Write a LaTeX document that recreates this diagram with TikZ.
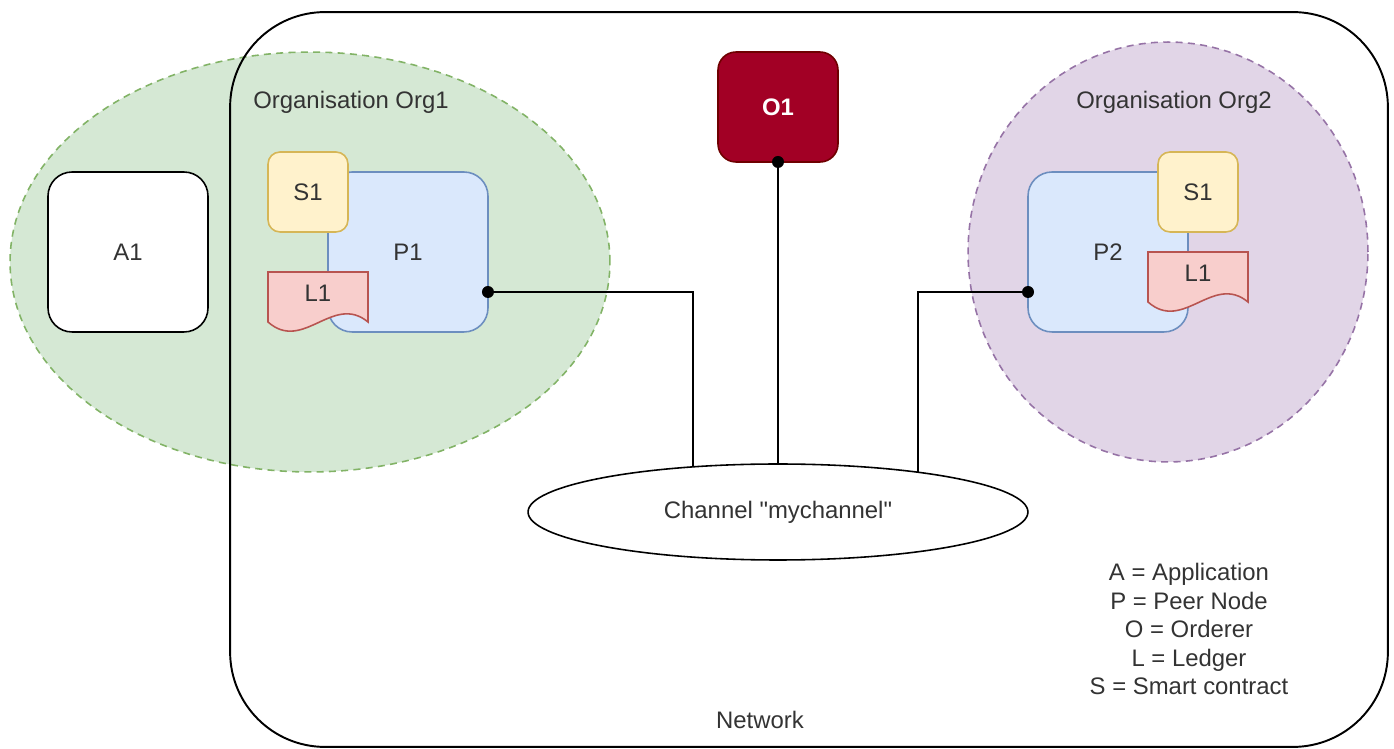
\documentclass[tikz,border=0pt]{standalone}
\usepackage{fontspec}
\setmainfont{Liberation Sans}
\usepackage{tikz}
\usetikzlibrary{shapes.geometric, positioning, calc}
\definecolor{txt}{HTML}{333333}
\definecolor{greenfill}{HTML}{D5E8D4}
\definecolor{greenline}{HTML}{82B366}
\definecolor{purplefill}{HTML}{E1D5E7}
\definecolor{purpleline}{HTML}{9673A6}
\definecolor{peerfill}{HTML}{DAE8FC}
\definecolor{peerline}{HTML}{6C8EBF}
\definecolor{scfill}{HTML}{FFF2CC}
\definecolor{scline}{HTML}{D6B656}
\definecolor{ledgerfill}{HTML}{F8CECC}
\definecolor{ledgerline}{HTML}{B85450}
\definecolor{ordfill}{HTML}{A20025}
\definecolor{ordline}{HTML}{6F0000}
\tikzset{
    base/.style={font=\fontsize{13.6}{16.2}\selectfont, text=txt, align=center, inner sep=0pt, outer sep=0pt},
    orgzone/.style={ellipse, line width=0.9pt, dash pattern=on 4pt off 3pt, inner sep=0pt},
    block/.style={base, rectangle, line width=0.9pt},
    appbox/.style={block, draw=black, fill=white, rounded corners=0.48cm, minimum size=3.2cm},
    peerbox/.style={block, draw=peerline, fill=peerfill, rounded corners=0.48cm, minimum size=3.2cm},
    scbox/.style={block, draw=scline, fill=scfill, rounded corners=0.24cm, minimum size=1.6cm},
    ordbox/.style={block, draw=ordline, fill=ordfill, text=white, font=\fontsize{13.6}{16}\selectfont\bfseries, rounded corners=0.36cm, minimum width=2.4cm, minimum height=2.2cm},
    ledger/.style={fill=ledgerfill, draw=ledgerline, line width=0.9pt},
    dot/.style={circle, fill=black, inner sep=0pt, minimum size=0.24cm},
    wire/.style={draw=black, line width=0.9pt},
    channel/.style={base, ellipse, draw=black, fill=white, line width=0.9pt, minimum width=10cm, minimum height=1.92cm}
}
\begin{document}
\begin{tikzpicture}[x=0.02cm, y=-0.02cm]
    \useasboundingbox (0,0) rectangle (1394,749);

    % organisations
    \node [orgzone, draw=greenline, fill=greenfill, minimum width=12cm, minimum height=8.4cm] (Org1) at (310,262) {};
    \node [orgzone, draw=purpleline, fill=purplefill, minimum width=8cm, minimum height=8.4cm] (Org2) at (1168,252) {};
    \node [base] (Org1Label) at (351,102) {Organisation Org1};
    \node [base] (Org2Label) at (1174,102) {Organisation Org2};

    % network
    \node [block, draw=black, line width=1.1pt, rounded corners=1.9cm, minimum width=23.16cm, minimum height=14.7cm] (Network) at (809,379.5) {};
    \node [base] (NetworkLabel) at (760,720) {Network};

    % application
    \node [appbox] (A1) at (128,252) {A1};

    % peer of Org1
    \node [peerbox] (P1) at (408,252) {P1};
    \node [scbox] (S1a) at (308,192) {S1};
    \coordinate (l1a) at (318,293);
    \path [ledger] ($(l1a)+(-50,-21)$) -- ($(l1a)+(50,-21)$) -- ($(l1a)+(50,29)$)
        .. controls ($(l1a)+(15,0)$) and ($(l1a)+(-15,60)$) .. ($(l1a)+(-50,29)$) -- cycle;
    \node [base] (L1a) at (l1a) {L1};

    % peer of Org2
    \node [peerbox] (P2) at (1108,252) {P2};
    \node [scbox] (S1b) at (1198,192) {S1};
    \coordinate (l1b) at (1198,273);
    \path [ledger] ($(l1b)+(-50,-21)$) -- ($(l1b)+(50,-21)$) -- ($(l1b)+(50,29)$)
        .. controls ($(l1b)+(15,0)$) and ($(l1b)+(-15,60)$) .. ($(l1b)+(-50,29)$) -- cycle;
    \node [base] (L1b) at (l1b) {L1};

    % orderer
    \node [ordbox] (O1) at (778,107) {O1};

    % channel links
    \coordinate (chanc) at (778,512);
    \node [dot] (DotP1) at ($(P1.east)+(0,40)$) {};
    \node [dot] (DotP2) at ($(P2.west)+(0,40)$) {};
    \node [dot] (DotO1) at (O1.south) {};
    \path [wire] (DotP1) -| ($(chanc)+(-85,0)$);
    \path [wire] (DotO1) -- (chanc);
    \path [wire] (DotP2) -| ($(chanc)+(140,0)$);
    \node [channel] (Channel) at (chanc) {Channel \textquotedbl mychannel\textquotedbl};

    % legend
    \node [base] (Legend) at (1189,629) {A = Application\\P = Peer Node\\O = Orderer\\L = Ledger\\S = Smart contract};
\end{tikzpicture}
\end{document}
